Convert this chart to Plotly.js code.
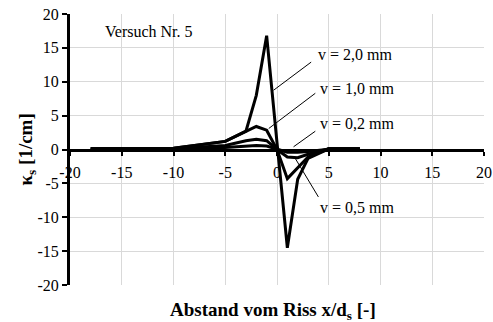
<!DOCTYPE html>
<html>
<head>
<meta charset="utf-8">
<script src="https://cdn.plot.ly/plotly-3.0.1.min.js"></script>
<style>
  html, body { margin: 0; padding: 0; background: #fff; }
  #chart { width: 493px; height: 322px; }
</style>
</head>
<body>
<div id="chart"></div>
<script>
// Distance from the crack, x/d_s
const xPos = [-18, -15, -10, -5, -3, -2, -1, 0, 1, 2, 3, 5, 8];

// Curvature kappa_s [1/cm] for each crack slip v
const v20 = [0.1, 0.1, 0.2, 1.2, 2.7, 8.0, 16.8, 1.0, -14.5, -4.4, -1.3, 0.1, 0.1];
const v10 = [0.1, 0.1, 0.2, 1.2, 2.7, 3.4, 2.85, 0.0, -4.3, -2.7, -1.1, 0.1, 0.1];
const v05 = [0.1, 0.1, 0.1, 0.6, 1.3, 1.5, 1.3, 0.0, -1.1, -1.2, -0.7, 0.1, 0.1];
const v02 = [0.05, 0.05, 0.1, 0.3, 0.5, 0.6, 0.5, 0.0, -0.4, -0.4, -0.3, 0.05, 0.05];

const seriesNames = ['v = 2,0 mm', 'v = 1,0 mm', 'v = 0,5 mm', 'v = 0,2 mm'];
const seriesValues = [v20, v10, v05, v02];

// Axis ticks (hyphen minus as in the print)
const tickVals = [-20, -15, -10, -5, 0, 5, 10, 15, 20];
const tickText = ['-20', '-15', '-10', '-5', '0', '5', '10', '15', '20'];

// Series labels: text position and leader line end
const labelText = ['v = 2,0 mm', 'v = 1,0 mm', 'v = 0,2 mm', 'v = 0,5 mm'];
const labelX    = [3.8, 4.0, 4.0, 4.0];
const labelY    = [14.0, 9.0, 3.9, -8.5];
const leadFromX = [3.3, 3.7, 3.7, 4.0];
const leadFromY = [12.9, 8.3, 2.7, -7.0];
const leadToX   = [-0.33, -0.8, 1.6, 1.77];
const leadToY   = [8.75, 3.1, 0.4, -1.33];

const FONT = 'Liberation Serif, Times New Roman, serif';

const traces = seriesValues.map((vals, i) => ({
  type: 'scatter',
  mode: 'lines',
  name: seriesNames[i],
  x: xPos,
  y: vals,
  line: { color: '#000', width: 3 },
  hoverinfo: 'skip'
}));

const annotations = labelText.map((t, i) => ({
  xref: 'x', yref: 'y',
  x: labelX[i], y: labelY[i],
  xanchor: 'left', yanchor: 'middle',
  text: t, showarrow: false,
  font: { family: FONT, size: 16, color: '#000' }
}));

annotations.push({
  xref: 'x', yref: 'y', x: -16.8, y: 17.4,
  xanchor: 'left', yanchor: 'middle',
  text: 'Versuch Nr. 5', showarrow: false,
  font: { family: FONT, size: 16, color: '#000' }
});

// Axis titles
annotations.push({
  xref: 'paper', yref: 'paper', x: 0.49, y: -0.095,
  xanchor: 'center', yanchor: 'middle',
  text: '<b>Abstand vom Riss x/d<sub>s</sub> [-]</b>', showarrow: false,
  font: { family: FONT, size: 19, color: '#000' }
});
annotations.push({
  xref: 'paper', yref: 'paper', x: -0.104, y: 0.5,
  xanchor: 'center', yanchor: 'middle', textangle: -90,
  text: '<b>κ<sub>s</sub> [1/cm]</b>', showarrow: false,
  font: { family: FONT, size: 19, color: '#000' }
});

const shapes = labelText.map((t, i) => ({
  type: 'line', xref: 'x', yref: 'y',
  x0: leadFromX[i], y0: leadFromY[i], x1: leadToX[i], y1: leadToY[i],
  line: { color: '#000', width: 1 }
}));

const axisCommon = {
  range: [-20, 20],
  tickmode: 'array',
  tickvals: tickVals,
  ticktext: tickText,
  showgrid: true,
  gridcolor: '#d9d9d9',
  gridwidth: 1,
  zeroline: false,
  showline: true,
  linecolor: '#000',
  linewidth: 3,
  ticks: 'outside',
  tickcolor: '#000',
  tickwidth: 2,
  tickfont: { family: FONT, size: 16, color: '#000' },
  fixedrange: true
};

const layout = {
  width: 493,
  height: 322,
  margin: { l: 70, r: 9, t: 14, b: 37 },
  paper_bgcolor: '#fff',
  plot_bgcolor: '#fff',
  showlegend: false,
  font: { family: FONT, size: 16, color: '#000' },
  xaxis: Object.assign({}, axisCommon, {
    anchor: 'free', position: 0.5, ticklen: 4, ticklabelstandoff: 3
  }),
  yaxis: Object.assign({}, axisCommon, { ticklen: 5 }),
  annotations: annotations,
  shapes: shapes
};

Plotly.newPlot('chart', traces, layout, { displayModeBar: false, staticPlot: true });
</script>
</body>
</html>
